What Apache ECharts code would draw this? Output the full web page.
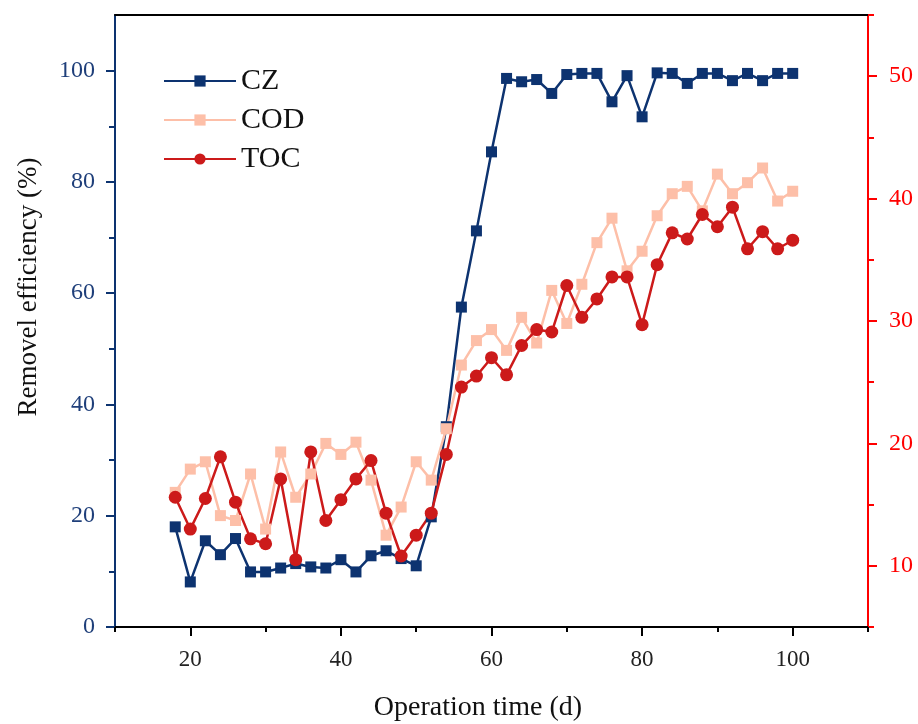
<!DOCTYPE html>
<html>
<head>
<meta charset="utf-8">
<script src="https://cdn.jsdelivr.net/npm/echarts@6/dist/echarts.min.js"></script>
<style>
  html, body { margin: 0; padding: 0; background: #fff; }
  #chart { width: 918px; height: 724px; }
</style>
</head>
<body>
<div id="chart"></div>
<script>
// operation days (d)
const days = [18, 20, 22, 24, 26, 28, 30, 32, 34, 36, 38, 40, 42, 44, 46, 48, 50, 52, 54, 56,
  58, 60, 62, 64, 66, 68, 70, 72, 74, 76, 78, 80, 82, 84, 86, 88, 90, 92, 94, 96, 98, 100]

// CZ removal efficiency (%), left axis
const czValues = [18.0, 8.1, 15.5, 13.0, 15.9, 9.9, 9.9, 10.6, 11.4, 10.8, 10.6, 12.1, 9.9, 12.8,
  13.7, 12.3, 11.0, 19.8, 36.0, 57.5, 71.2, 85.4, 98.6, 98.0, 98.4, 95.9, 99.3, 99.5, 99.5, 94.4,
  99.1, 91.7, 99.6, 99.5, 97.7, 99.5, 99.5, 98.2, 99.5, 98.2, 99.5, 99.5]

// COD and TOC, right axis
const codValues = [16.0, 17.9, 18.5, 14.1, 13.7, 17.5, 13.0, 19.3, 15.6, 17.5, 20.0, 19.1, 20.1,
  17.0, 12.5, 14.8, 18.5, 17.0, 21.2, 26.4, 28.4, 29.3, 27.6, 30.3, 28.2, 32.5, 29.8, 33.0, 36.4,
  38.4, 34.1, 35.7, 38.6, 40.4, 41.0, 39.0, 42.0, 40.4, 41.3, 42.5, 39.8, 40.6]
const tocValues = [15.6, 13.0, 15.5, 18.9, 15.2, 12.2, 11.8, 17.1, 10.5, 19.3, 13.7, 15.4, 17.1,
  18.6, 14.3, 10.8, 12.5, 14.3, 19.1, 24.6, 25.5, 27.0, 25.6, 28.0, 29.3, 29.1, 32.9, 30.3, 31.8,
  33.6, 33.6, 29.7, 34.6, 37.2, 36.7, 38.7, 37.7, 39.3, 35.9, 37.3, 35.9, 36.6]

// ticks
const xMajor = [20, 40, 60, 80, 100]
const xMinor = [10, 30, 50, 70, 90, 110]
const leftMajor = [0, 20, 40, 60, 80, 100]
const leftMinor = [10, 30, 50, 70, 90]
const rightMajor = [10, 20, 30, 40, 50]
const rightMinor = [5, 15, 25, 35, 45, 55]

const serif = 'Liberation Serif'
const navy = '#0d3370'
const red = '#ff0000'

const chart = echarts.init(document.getElementById('chart'))

const pairs = (vals) => days.map((d, i) => [d, vals[i]])

chart.setOption({
  animation: false,
  grid: { left: 115, right: 50, top: 15, bottom: 97 },
  legend: {
    orient: 'vertical',
    left: 163,
    top: 66,
    padding: 0,
    itemWidth: 72,
    itemHeight: 14,
    itemGap: 9,
    textStyle: { fontFamily: serif, fontSize: 30, color: '#111' },
    data: ['CZ', 'COD', 'TOC']
  },
  // axis titles
  graphic: [
    {
      type: 'text', x: 29, y: 287, rotation: Math.PI / 2,
      style: {
        text: 'Removel efficiency (%)', fontFamily: serif, fontSize: 27, fill: '#111',
        align: 'center', verticalAlign: 'middle'
      }
    },
    {
      type: 'text', x: 478, y: 708,
      style: {
        text: 'Operation time (d)', fontFamily: serif, fontSize: 28, fill: '#111',
        align: 'center', verticalAlign: 'middle'
      }
    }
  ],
  xAxis: [
    {
      type: 'value', min: 10, max: 110, position: 'bottom',
      axisLine: { lineStyle: { color: '#000', width: 2 } },
      axisTick: { customValues: xMajor, length: 9, lineStyle: { color: '#000', width: 2 } },
      axisLabel: { customValues: xMajor, margin: 21, fontFamily: serif, fontSize: 23, color: '#222' },
      splitLine: { show: false }
    },
    {
      type: 'value', min: 10, max: 110, position: 'bottom',
      axisLine: { show: false },
      axisTick: { customValues: xMinor, length: 5, lineStyle: { color: '#000', width: 2 } },
      axisLabel: { show: false },
      splitLine: { show: false }
    },
    {
      type: 'value', min: 10, max: 110, position: 'top',
      axisLine: { lineStyle: { color: '#000', width: 2 } },
      axisTick: { show: false },
      axisLabel: { show: false },
      splitLine: { show: false }
    }
  ],
  yAxis: [
    {
      type: 'value', min: 0, max: 110, position: 'left',
      axisLine: { show: true, lineStyle: { color: navy, width: 2 } },
      axisTick: { show: true, customValues: leftMajor, length: 9, lineStyle: { color: navy, width: 2 } },
      axisLabel: { customValues: leftMajor, margin: 20, fontFamily: serif, fontSize: 24, color: '#1f3f7a' },
      splitLine: { show: false }
    },
    {
      type: 'value', min: 0, max: 110, position: 'left',
      axisLine: { show: false },
      axisTick: { show: true, customValues: leftMinor, length: 6, lineStyle: { color: navy, width: 2 } },
      axisLabel: { show: false },
      splitLine: { show: false }
    },
    {
      type: 'value', min: 5, max: 55, position: 'right',
      axisLine: { show: true, lineStyle: { color: red, width: 2 } },
      axisTick: { show: true, customValues: rightMajor, length: 9, lineStyle: { color: red, width: 2 } },
      axisLabel: { customValues: rightMajor, margin: 21, fontFamily: serif, fontSize: 24, color: red },
      splitLine: { show: false }
    },
    {
      type: 'value', min: 5, max: 55, position: 'right',
      axisLine: { show: false },
      axisTick: { show: true, customValues: rightMinor, length: 6, lineStyle: { color: red, width: 2 } },
      axisLabel: { show: false },
      splitLine: { show: false }
    }
  ],
  series: [
    {
      name: 'CZ', type: 'line', xAxisIndex: 0, yAxisIndex: 0,
      data: pairs(czValues),
      symbol: 'rect', symbolSize: 11,
      lineStyle: { color: navy, width: 2.5 },
      itemStyle: { color: navy }
    },
    {
      name: 'COD', type: 'line', xAxisIndex: 0, yAxisIndex: 2,
      data: pairs(codValues),
      symbol: 'rect', symbolSize: 11,
      lineStyle: { color: '#fdbfa8', width: 2.5 },
      itemStyle: { color: '#fdbfa8' }
    },
    {
      name: 'TOC', type: 'line', xAxisIndex: 0, yAxisIndex: 2,
      data: pairs(tocValues),
      symbol: 'circle', symbolSize: 13,
      lineStyle: { color: '#cc1a1a', width: 2.5 },
      itemStyle: { color: '#cc1a1a' }
    }
  ]
})
</script>
</body>
</html>
